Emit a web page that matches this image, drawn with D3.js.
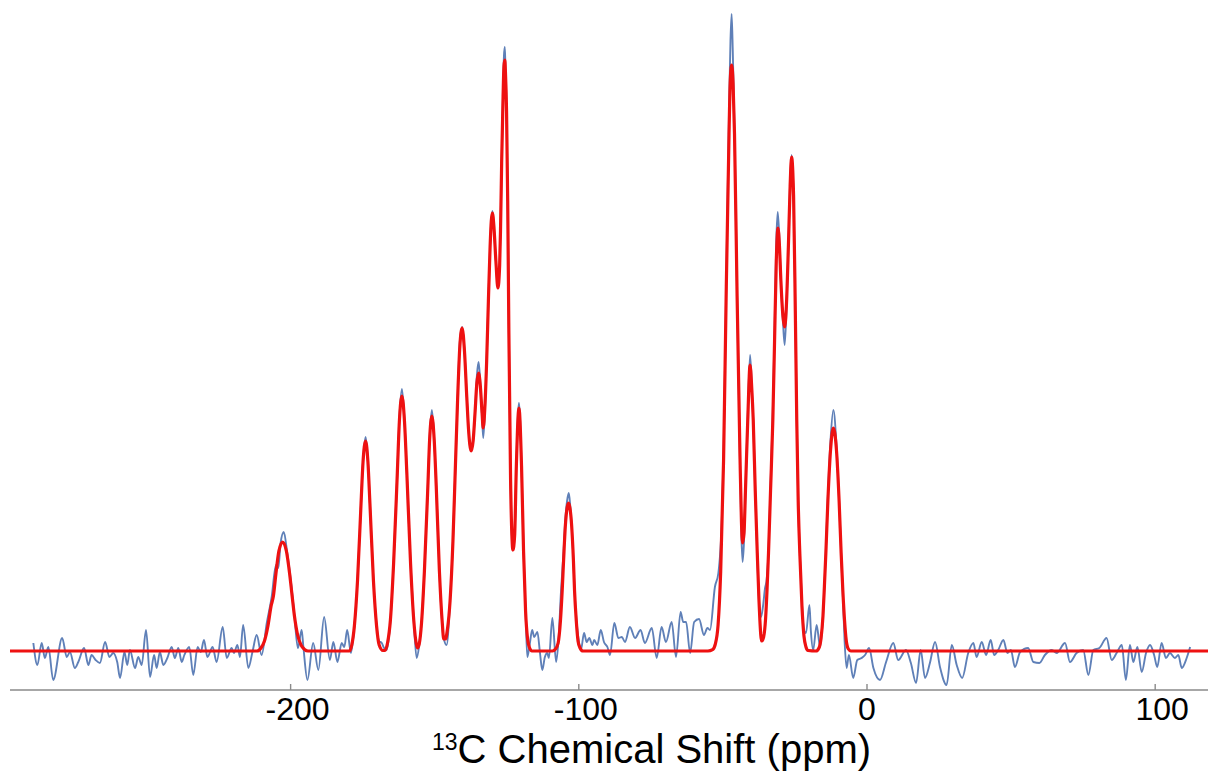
<!DOCTYPE html>
<html>
<head>
<meta charset="utf-8">
<script src="https://cdn.jsdelivr.net/npm/d3@7"></script>
<style>
  html, body { margin: 0; padding: 0; background: #fff; }
  svg { display: block; }
  text { font-family: "Liberation Sans", Arial, Helvetica, sans-serif; }
</style>
</head>
<body>
<svg id="chart" width="1208" height="773"></svg>
<script>
// visible shift range (ppm) and axis ticks
var shiftRange = [-297.2, 118.5];
var tickValues = [-200, -100, 0, 100];
var axisTitleSup = "13";
var axisTitleMain = "C Chemical Shift (ppm)";

// measured spectrum, [shift ppm, intensity]
var spectrum = [
  [-289.1,8],[-287.7,-14],[-286.2,8],[-285.1,-7],[-283.9,4],[-282.2,-29],[-279.1,13],[-277.5,-6],[-276.4,-1],[-274.7,-17],
  [-273.5,-11],[-271.5,3],[-270.0,-14],[-268.9,-4],[-267.5,-9],[-266.0,-12],[-264.2,9],[-262.7,-6],[-261.4,-2],[-260.0,-11],
  [-259.0,-27],[-257.5,-1],[-256.5,-14],[-255.6,1],[-253.8,-17],[-252.7,-6],[-251.5,-14],[-250.0,21],[-248.6,-26],[-247.2,-4],
  [-246.3,-17],[-245.2,-1],[-244.0,-14],[-242.6,-7],[-241.1,4],[-240.0,-7],[-238.8,3],[-237.6,-11],[-236.7,-4],[-235.0,4],
  [-233.6,-24],[-232.1,4],[-231.0,-1],[-229.9,11],[-228.7,-6],[-226.9,4],[-225.5,-11],[-223.4,24],[-222.0,-7],[-220.3,3],
  [-219.5,-2],[-218.3,6],[-217.4,-6],[-216.3,26],[-214.5,-17],[-213.0,0],[-211.6,16],[-209.9,-4],[-208.1,28],[-206.4,54],
  [-204.9,86],[-204.1,83],[-203.3,108],[-202.2,119],[-201.0,98],[-199.5,64],[-198.5,35],[-197.3,3],[-196.0,21],[-195.4,4],
  [-194.0,-29],[-192.0,8],[-190.2,-19],[-188.2,34],[-186.2,-9],[-185.0,9],[-183.6,-11],[-182.1,8],[-181.2,4],[-180.2,21],
  [-178.9,-2],[-177.7,25],[-176.6,71],[-175.4,147],[-174.7,190],[-173.8,214],[-173.0,190],[-172.3,147],[-171.1,71],[-170.0,26],
  [-169.2,10],[-168.2,8],[-167.4,3],[-166.5,1],[-165.2,30],[-164.1,87],[-162.8,178],[-162.1,232],[-161.2,262],[-160.3,230],
  [-159.5,178],[-158.2,87],[-157.1,30],[-156.1,-7],[-155.2,6],[-154.4,28],[-153.4,80],[-152.2,165],[-151.6,213],[-150.8,241],
  [-150.0,212],[-149.3,165],[-148.2,80],[-147.3,30],[-146.8,14],[-145.7,6],[-144.5,50],[-143.5,110],[-142.8,171],[-141.9,250],
  [-141.1,310],[-140.3,324],[-139.5,300],[-138.7,254],[-138.1,222],[-137.2,200],[-136.5,210],[-135.8,240],[-135.2,275],[-134.6,289],
  [-134.0,268],[-133.4,235],[-133.0,213],[-132.4,240],[-131.8,290],[-131.2,350],[-130.6,405],[-130.2,430],[-129.8,440],[-129.3,425],
  [-128.6,390],[-127.9,363],[-127.0,420],[-126.6,488],[-126.1,560],[-125.8,595],[-125.5,604],[-125.3,585],[-124.9,540],[-124.5,450],
  [-124.1,320],[-123.5,171],[-123.0,112],[-122.7,101],[-122.1,115],[-121.5,185],[-120.6,248],[-119.7,185],[-119.0,100],[-118.3,40],
  [-117.7,-6],[-116.8,8],[-116.0,21],[-115.3,14],[-114.2,19],[-113.3,-2],[-112.5,-19],[-111.6,-6],[-110.8,-2],[-110.2,-7],
  [-109.0,33],[-107.7,-11],[-106.9,10],[-106.0,60],[-105.1,100],[-104.5,132],[-103.9,150],[-103.3,158],[-102.8,145],[-102.3,125],
  [-101.7,91],[-101.3,60],[-100.6,30],[-100.0,14],[-99.1,1],[-98.0,18],[-97.1,9],[-96.2,13],[-95.1,6],[-94.5,11],
  [-93.4,6],[-92.2,21],[-91.1,9],[-89.9,4],[-89.0,-4],[-87.5,28],[-86.1,13],[-84.9,14],[-83.8,9],[-82.1,24],
  [-80.3,13],[-78.4,21],[-76.9,8],[-74.5,23],[-72.8,-7],[-71.1,24],[-69.6,9],[-67.6,29],[-66.1,-6],[-64.5,39],
  [-63.6,29],[-62.6,29],[-61.2,-2],[-59.8,29],[-58.1,32],[-56.4,16],[-55.2,23],[-54.3,21],[-52.6,64],[-51.4,78],
  [-50.2,131],[-49.6,195],[-48.7,360],[-47.7,540],[-47.2,610],[-46.8,637],[-46.4,600],[-45.8,520],[-44.9,355],[-43.9,190],
  [-43.4,115],[-43.0,89],[-42.5,110],[-42.0,160],[-41.2,235],[-40.4,296],[-39.8,265],[-39.3,231],[-38.6,160],[-37.9,95],
  [-37.3,50],[-36.6,34],[-35.9,45],[-35.2,63],[-34.7,70],[-34.0,100],[-33.3,165],[-32.5,240],[-31.9,320],[-31.3,410],
  [-30.8,439],[-30.2,410],[-29.7,370],[-29.0,330],[-28.4,306],[-27.8,340],[-27.1,405],[-26.5,470],[-26.0,496],[-25.3,455],
  [-24.7,340],[-24.2,231],[-23.7,150],[-23.1,95],[-22.4,48],[-21.7,20],[-21.0,18],[-19.8,46],[-19.3,20],[-18.5,1],
  [-17.3,26],[-16.1,4],[-15.1,35],[-14.1,100],[-13.4,155],[-12.5,210],[-11.5,241],[-10.4,205],[-9.5,150],[-8.8,98],
  [-8.2,55],[-7.6,10],[-6.9,-17],[-6.1,-4],[-4.6,-27],[-3.2,-9],[-1.7,-7],[-0.5,-4],[0.9,3],[2.4,-17],
  [4.7,-29],[6.8,-11],[9.3,8],[11.0,-9],[13.7,1],[15.4,-12],[17.2,-32],[18.8,1],[20.3,-27],[22.0,-12],
  [23.8,9],[25.5,-16],[27.8,-34],[29.6,6],[31.3,-14],[33.2,-27],[35.3,-2],[37.1,8],[38.2,-6],[40.0,9],
  [41.5,-4],[43.1,11],[44.3,-4],[45.7,1],[47.5,11],[48.9,-2],[50.1,1],[51.5,-16],[53.3,-1],[56.1,3],
  [57.9,-11],[60.0,-12],[61.9,-4],[64.3,1],[66.0,-2],[68.9,8],[70.6,-11],[72.9,-2],[75.2,1],[77.0,-24],
  [78.7,1],[80.8,3],[83.3,13],[85.1,-9],[86.8,-2],[88.6,6],[90.0,-29],[91.4,6],[92.6,-11],[94.0,4],
  [95.5,-21],[97.0,-2],[98.4,6],[99.8,-4],[100.9,-16],[102.4,8],[103.9,-7],[105.3,-2],[107.0,-7],[108.2,-4],
  [109.4,-17],[111.1,-7],[112.3,4]
];

// fitted spectrum, [shift ppm, intensity]
var fit = [
  [-297.2,0],[-213.2,0],[-211.5,0],[-210.1,3],[-208.9,10],[-207.7,25],[-206.6,45],[-205.8,55],[-204.9,78],[-203.9,100],
  [-202.6,109],[-201.3,100],[-200.2,78],[-199.3,55],[-198.5,35],[-197.4,16],[-196.2,6],[-195.0,1.5],[-193.8,0],[-179.4,0],
  [-178.6,6],[-177.7,25],[-176.6,71],[-175.4,147],[-174.7,189],[-173.8,210],[-173.0,189],[-172.3,147],[-171.1,71],[-170.0,25],
  [-169.1,6],[-167.8,0.5],[-167.1,0.5],[-166.2,8],[-165.2,31],[-164.1,87],[-162.8,178],[-162.1,229],[-161.2,255],[-160.3,229],
  [-159.5,178],[-158.2,87],[-157.1,31],[-156.2,7],[-155.8,3],[-155.2,7],[-154.4,28],[-153.4,80],[-152.2,165],[-151.6,211],
  [-150.8,235],[-150.0,211],[-149.3,165],[-148.2,80],[-147.2,28],[-146.7,12],[-146.1,12],[-145.4,22],[-144.5,50],[-143.5,110],
  [-142.8,171],[-141.9,250],[-141.1,305],[-140.3,323],[-139.5,300],[-138.7,254],[-138.1,222],[-137.2,200],[-136.5,210],[-135.8,240],
  [-135.2,268],[-134.6,278],[-134.0,265],[-133.4,238],[-133.0,223],[-132.4,245],[-131.8,290],[-131.2,350],[-130.6,405],[-130.2,430],
  [-129.8,438],[-129.3,425],[-128.6,390],[-127.9,363],[-127.3,385],[-127.0,420],[-126.6,488],[-126.1,555],[-125.8,585],[-125.5,591],
  [-125.3,580],[-124.9,540],[-124.5,450],[-124.1,320],[-123.5,171],[-123.0,112],[-122.7,101],[-122.1,115],[-121.5,185],[-120.6,243],
  [-119.7,185],[-119.0,100],[-118.3,40],[-117.6,12],[-116.9,3],[-116.1,0],[-109.0,0],[-107.9,2],[-107.0,8],[-106.2,30],
  [-105.6,60],[-105.1,91],[-104.5,125],[-103.9,143],[-103.4,148],[-102.9,143],[-102.3,125],[-101.7,91],[-101.3,60],[-100.7,30],
  [-100.1,10],[-99.4,3],[-98.4,0],[-55.0,0],[-53.4,1.3],[-52.5,6.5],[-51.5,26],[-50.6,79],[-49.6,190],[-48.7,355],
  [-47.7,517],[-47.3,568],[-46.8,586],[-46.3,568],[-45.8,517],[-44.9,355],[-43.9,195],[-43.4,130],[-43.0,108],[-42.5,118],
  [-42.0,160],[-41.2,231],[-40.4,286],[-39.8,262],[-39.3,231],[-38.6,160],[-37.9,98],[-37.3,50],[-37.0,31],[-36.4,10],
  [-35.7,14],[-35.0,33],[-34.5,62],[-34.0,98],[-33.3,160],[-32.5,231],[-31.9,310],[-31.3,390],[-30.7,423],[-30.2,405],
  [-29.7,370],[-29.0,335],[-28.4,324],[-27.8,345],[-27.1,405],[-26.5,465],[-26.0,494],[-25.3,455],[-24.7,340],[-24.2,231],
  [-23.7,150],[-23.1,95],[-22.4,45],[-21.7,15],[-21.0,4],[-20.3,0.5],[-17.5,0],[-16.5,3],[-15.8,12],[-15.1,35],
  [-14.6,65],[-14.1,98],[-13.4,150],[-12.5,200],[-11.5,223],[-10.4,200],[-9.5,150],[-8.8,98],[-8.2,60],[-7.6,30],
  [-7.0,10],[-6.3,2],[-5.4,0],[118.5,0]
];

var svg = d3.select("#chart");

var x = d3.scaleLinear().domain(shiftRange).range([10, 1208]);
var y = d3.scaleLinear().domain([0, 600]).range([651, 51]);

var line = d3.line()
    .x(function(d) { return x(d[0]); })
    .y(function(d) { return y(d[1]); })
    .curve(d3.curveMonotoneX);

// axis line across the whole plot
svg.append("line")
    .attr("x1", x(shiftRange[0])).attr("x2", x(shiftRange[1]))
    .attr("y1", 690).attr("y2", 690)
    .attr("stroke", "#8a8a8a").attr("stroke-width", 1.6);

var axis = svg.append("g")
    .attr("transform", "translate(0,690)")
    .call(d3.axisBottom(x).tickValues(tickValues).tickSize(-6).tickPadding(7).tickFormat(d3.format("d")));
axis.select(".domain").remove();
axis.selectAll(".tick line").attr("stroke", "#8a8a8a").attr("stroke-width", 1.4);
axis.selectAll(".tick text")
    .attr("fill", "#000")
    .attr("font-size", 32)
    .attr("font-family", "'Liberation Sans', Arial, Helvetica, sans-serif")
    .attr("dx", function(d) { return d === 0 ? 0 : 7; })
    .text(function(d) { return d < 0 ? "-" + Math.abs(d) : d; });

// measured spectrum
svg.append("path")
    .datum(spectrum)
    .attr("fill", "none")
    .attr("stroke", "#5f80b8")
    .attr("stroke-width", 1.9)
    .attr("stroke-linejoin", "round")
    .attr("d", line);

// fit
svg.append("path")
    .datum(fit)
    .attr("fill", "none")
    .attr("stroke", "#ee1111")
    .attr("stroke-width", 3.2)
    .attr("stroke-linejoin", "round")
    .attr("d", line);

// axis title
var title = svg.append("text")
    .attr("x", 432)
    .attr("y", 763)
    .attr("fill", "#000")
    .attr("font-size", 40);
title.append("tspan").attr("font-size", 23).attr("dy", -13).text(axisTitleSup);
title.append("tspan").attr("dy", 13).text(axisTitleMain);
</script>
</body>
</html>
